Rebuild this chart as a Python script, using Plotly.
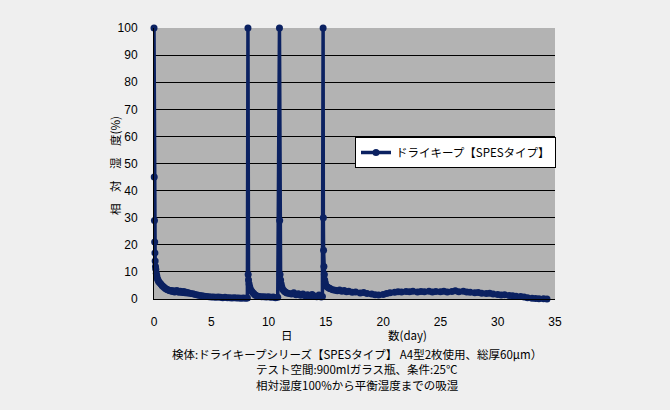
import plotly.graph_objects as go

# Segment 1: start at day 0
d1 = [0, 0.02, 0.04, 0.06, 0.08, 0.1, 0.13, 0.16, 0.2, 0.25, 0.3, 0.35, 0.4, 0.5, 0.6, 0.7, 0.8, 0.9, 1.0, 1.1,
      1.2, 1.3, 1.4, 1.5, 1.6, 1.7, 1.8, 1.9, 2.0, 2.1, 2.2, 2.3, 2.4, 2.5, 2.6, 2.7, 2.8, 2.9, 3.0, 3.2,
      3.4, 3.6, 3.8, 4.0, 4.2, 4.4, 4.6, 4.8, 5.0, 5.2, 5.4, 5.6, 5.8, 6.0, 6.2, 6.4, 6.6, 6.8, 7.0, 7.2,
      7.4, 7.6, 7.8, 8.0, 8.15]
r1 = [100, 45, 29, 21, 17, 14, 12, 11, 9.5, 8.5, 7.5, 7, 6.5, 6, 5.5, 5, 4.6, 4.2, 3.9, 3.6,
      3.4, 3.2, 3.0, 3.1, 2.8, 3.0, 2.6, 2.9, 3.1, 2.7, 2.5, 2.9, 2.6, 2.4, 2.8, 2.3, 2.5, 2.2, 2.3, 2.0,
      1.9, 1.7, 1.5, 1.3, 1.2, 1.0, 0.9, 0.8, 0.7, 0.7, 0.6, 0.7, 0.6, 0.5, 0.6, 0.5, 0.5, 0.4, 0.5, 0.4,
      0.4, 0.3, 0.4, 0.3, 0.4]

# Segment 2: re-exposure at ~day 8.2
d2 = [8.2, 8.22, 8.25, 8.3, 8.35, 8.4, 8.5, 8.6, 8.7, 8.8, 8.9, 9.0, 9.2, 9.4, 9.6, 9.8, 10.0, 10.2, 10.4, 10.6, 10.8]
r2 = [100, 9, 7, 5.5, 4.5, 3.8, 3.0, 2.5, 2.0, 1.6, 1.3, 1.1, 0.9, 0.8, 0.8, 0.7, 0.8, 0.6, 0.7, 0.5, 0.6]

# Segment 3: re-exposure at ~day 10.95
d3 = [10.95, 10.97, 11.0, 11.05, 11.1, 11.15, 11.2, 11.3, 11.4, 11.5, 11.6, 11.8, 12.0, 12.2, 12.4, 12.6, 12.8,
      13.0, 13.2, 13.4, 13.6, 13.8, 14.0, 14.2, 14.4, 14.6, 14.7]
r3 = [100, 29, 9, 7, 5.5, 4.5, 3.8, 3.2, 2.8, 2.5, 2.2, 2.0, 1.8, 2.3, 1.6, 1.9, 1.4,
      1.8, 1.2, 1.6, 1.0, 1.7, 1.1, 0.8, 1.5, 0.7, 0.9]

# Segment 4: re-exposure at ~day 14.76
d4 = [14.76, 14.78, 14.8, 14.83, 14.87, 14.9, 14.95, 15.0, 15.1, 15.2, 15.3, 15.4, 15.6, 15.8, 16.0, 16.2,
      16.4, 16.6, 16.8, 17.0, 17.3, 17.6, 18.0, 18.3, 18.6, 19.0, 19.3, 19.6, 20.0, 20.3, 20.6, 21.0,
      21.3, 21.6, 22.0, 22.3, 22.6, 23.0, 23.3, 23.6, 24.0, 24.3, 24.6, 25.0, 25.3, 25.6, 26.0, 26.3,
      26.6, 27.0, 27.3, 27.6, 28.0, 28.3, 28.6, 29.0, 29.3, 29.6, 30.0, 30.3, 30.6, 31.0, 31.3, 31.6,
      32.0, 32.3, 32.6, 33.0, 33.3, 33.6, 34.0, 34.3]
r4 = [100, 30, 18, 12, 9, 7, 6, 5, 4.5, 4.2, 4.0, 3.8, 3.4, 3.2, 3.0, 3.3,
      2.9, 3.1, 2.7, 2.9, 2.5, 2.6, 2.2, 2.4, 2.0, 1.8, 1.6, 1.5, 1.7, 2.0, 2.3, 2.5,
      2.7, 2.6, 2.8, 2.7, 2.9, 2.6, 2.8, 2.7, 2.9, 2.6, 2.8, 2.7, 2.9, 2.6, 2.8, 3.0,
      2.7, 2.9, 2.6, 2.5, 2.3, 2.4, 2.1, 2.0, 2.1, 1.8, 1.7, 1.5, 1.6, 1.3, 1.2, 1.0,
      0.9, 0.7, 0.5, 0.3, 0.2, 0.1, 0.1, 0.0]

days = d1 + d2 + d3 + d4
rh = r1 + r2 + r3 + r4

x_ticks = [0, 5, 10, 15, 20, 25, 30, 35]
y_ticks = [0, 10, 20, 30, 40, 50, 60, 70, 80, 90, 100]

series_name = "ドライキープ【SPESタイプ】"
y_title = "相\u3000対\u3000湿\u3000度(%)"
x_title_a = "日"
x_title_b = "数(day)"
captions = [
    "検体:ドライキープシリーズ【SPESタイプ】 A4型2枚使用、総厚60μm）",
    "テスト空間:900mlガラス瓶、条件:25℃",
    "相対湿度100%から平衡湿度までの吸湿",
]

NAVY = "#0b2161"
BG = "#efefef"
FONT = "Arial, 'Liberation Sans', 'Noto Sans CJK JP', sans-serif"
JFONT = "'Noto Sans CJK JP', sans-serif"

fig = go.Figure()
fig.add_trace(go.Scatter(
    x=days, y=rh, mode="lines+markers", name=series_name,
    line=dict(color=NAVY, width=3.5),
    marker=dict(color=NAVY, size=7),
    cliponaxis=False,
))

L, R, T, B = 154, 115, 28, 111
W, H = 670, 410
pw, ph = W - L - R, H - T - B

def px(xp):
    return (xp - L) / pw

def py(yp):
    return (H - B - yp) / ph

annotations = [
    dict(text=x_title_a, x=px(287), y=py(335)),
    dict(text=x_title_b, x=px(407), y=py(335)),
    dict(text=captions[0], x=px(357), y=py(354)),
    dict(text=captions[1], x=px(357), y=py(369)),
    dict(text=captions[2], x=px(357), y=py(385)),
    dict(text=y_title, x=px(115), y=py(166), textangle=-90),
]
for a in annotations:
    a.update(xref="paper", yref="paper", showarrow=False, xanchor="center", yanchor="middle",
             font=dict(family=JFONT, size=11.5, color="black"))

fig.update_layout(
    width=W, height=H,
    margin=dict(l=L, r=R, t=T, b=B),
    paper_bgcolor=BG,
    plot_bgcolor="#b3b3b3",
    font=dict(family=FONT, size=12, color="black"),
    showlegend=True,
    legend=dict(
        x=px(355), y=py(137), xanchor="left", yanchor="top",
        bgcolor="white", bordercolor="black", borderwidth=1,
        font=dict(family=JFONT, size=11.5, color="black"),
        itemwidth=30, tracegroupgap=0,
    ),
    annotations=annotations,
    xaxis=dict(
        range=[0, 35], tickvals=x_ticks, showgrid=False, zeroline=False,
        showline=True, linecolor="black", linewidth=1,
        ticks="outside", ticklen=12, tickcolor="rgba(0,0,0,0)",
        tickfont=dict(family=FONT, size=12),
    ),
    yaxis=dict(
        range=[0, 100], tickvals=y_ticks, showgrid=True, gridcolor="black", gridwidth=1,
        zeroline=False, showline=True, linecolor="black", linewidth=1,
        ticks="outside", ticklen=13, tickcolor="rgba(0,0,0,0)",
        tickfont=dict(family=FONT, size=12),
    ),
)

fig.write_html(
    "out.html",
    config={"displayModeBar": False},
    post_script="document.body.style.margin='0';document.body.style.background='%s';" % BG,
)
